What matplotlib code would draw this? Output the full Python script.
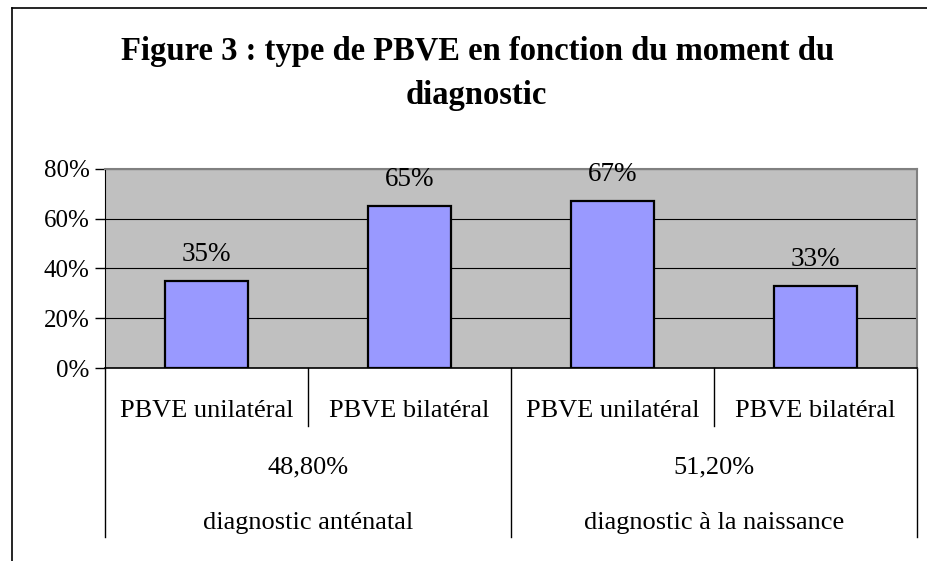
import matplotlib
matplotlib.use("Agg")
import matplotlib.pyplot as plt
from matplotlib.lines import Line2D

plt.rcParams['font.family'] = ['Liberation Serif', 'DejaVu Serif']

# data
categories = ["PBVE unilatéral", "PBVE bilatéral", "PBVE unilatéral", "PBVE bilatéral"]
values = [0.35, 0.65, 0.67, 0.33]
value_labels = ["35%", "65%", "67%", "33%"]
group_shares = ["48,80%", "51,20%"]
group_names = ["diagnostic anténatal", "diagnostic à la naissance"]
yticks = [0, 0.2, 0.4, 0.6, 0.8]
ytick_labels = ["0%", "20%", "40%", "60%", "80%"]
title_lines = ["Figure 3 : type de PBVE en fonction du moment du", "diagnostic"]

fig = plt.figure(figsize=(9.27, 5.61), dpi=100)
ax = fig.add_axes([0.1133, 0.344, 0.8759, 0.3548])

x = list(range(len(values)))
ax.bar(x, values, width=0.41, color="#9999FF", edgecolor="black", linewidth=1.6, zorder=3)
for xi, v, lab in zip(x, values, value_labels):
    ax.text(xi, v + 0.082, lab, ha="center", va="baseline", fontsize=19.5)

ax.set_facecolor("#C0C0C0")
ax.set_xlim(-0.5, 3.5)
ax.set_ylim(0, 0.8)
ax.set_yticks(yticks)
ax.set_yticklabels(ytick_labels, fontsize=18)
ax.yaxis.grid(True, color="black", linewidth=0.8, zorder=1)
ax.set_axisbelow(True)
ax.set_xticks([])
ax.tick_params(axis="y", length=7, width=1, pad=4)
for side in ["top", "right"]:
    ax.spines[side].set_color("#808080")
    ax.spines[side].set_linewidth(1.5)
ax.spines["left"].set_color("black")
ax.spines["bottom"].set_color("black")
ax.spines["bottom"].set_linewidth(1.2)

# multi-level category axis
tr = ax.get_xaxis_transform()
for b in [-0.5, 1.5, 3.5]:
    ax.plot([b, b], [0, -0.849], color="black", linewidth=1, transform=tr, clip_on=False)
for b in [0.5, 2.5]:
    ax.plot([b, b], [0, -0.2915], color="black", linewidth=1, transform=tr, clip_on=False)
for xi, c in zip(x, categories):
    ax.text(xi, -0.216, c, ha="center", va="center", fontsize=19, transform=tr)
for gx, share, name in zip([0.5, 2.5], group_shares, group_names):
    ax.text(gx, -0.502, share, ha="center", va="center", fontsize=19, transform=tr)
    ax.text(gx, -0.779, name, ha="center", va="center", fontsize=19, transform=tr)

fig.text(0.515, 0.893, title_lines[0], ha="center", va="baseline",
         fontsize=23.5, fontweight="bold")
fig.text(0.514, 0.8147, title_lines[1], ha="center", va="baseline",
         fontsize=23.5, fontweight="bold")

# chart frame (left and top edges visible)
fig.add_artist(Line2D([0.0129, 0.0129], [0, 0.9857], color="black", linewidth=1.2))
fig.add_artist(Line2D([0.0129, 1.0], [0.9857, 0.9857], color="black", linewidth=1.2))

fig.savefig("out.png", dpi=100)
